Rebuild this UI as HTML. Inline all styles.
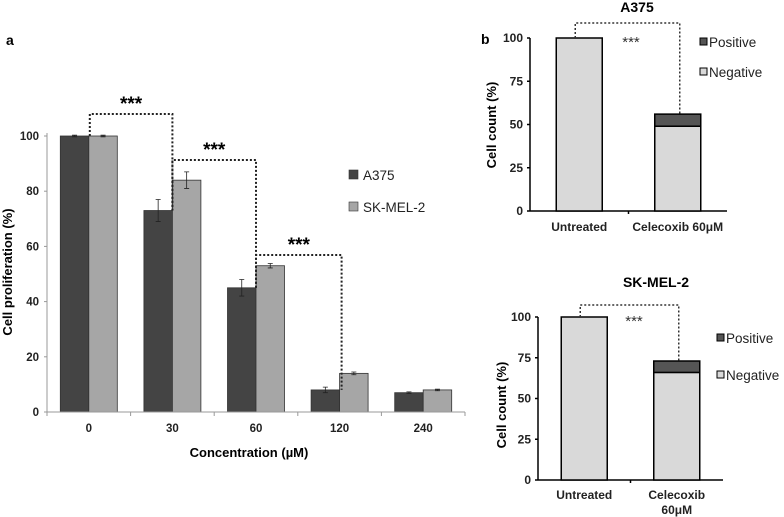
<!DOCTYPE html>
<html><head><meta charset="utf-8"><style>
html,body{margin:0;padding:0;background:#fff}
svg{display:block;font-family:"Liberation Sans",Arial,sans-serif}
</style></head><body>
<svg id="s" width="784" height="517" viewBox="0 0 784 517"></svg>
<script>
// Panel a data
const categoriesA = ["0","30","60","120","240"];
const a375Values = [100,73,45,8,7];
const a375Err = [0.3,4,3,1,0.3];
const skmelValues = [100,84,53,14,8];
const skmelErr = [0.3,3,0.8,0.5,0.3];
const yTicksA = [0,20,40,60,80,100];
// Panel b data
const categoriesB = ["Untreated","Celecoxib 60μM"];
const a375Negative = [100,49];
const a375Positive = [0,7];
const skNegative = [100,66];
const skPositive = [0,7];
const yTicksB = [0,25,50,75,100];

const NS="http://www.w3.org/2000/svg";
const svg=document.getElementById('s');
function el(tag,attrs,parent,text){const e=document.createElementNS(NS,tag);for(const k in attrs)e.setAttribute(k,attrs[k]);if(text!==undefined)e.textContent=text;(parent||svg).appendChild(e);return e;}

// ---------- Panel a ----------
const ga=el('g',{});


const ax0=47, ax1=465, ay0=412, ay100=136;
const yA=v=>ay0-(ay0-ay100)*v/100;
const cw=(ax1-ax0)/categoriesA.length;
const xA=i=>ax0+cw*(i+0.5);
const bw=28.5;
let t=el('text',{x:6,y:45,'font-size':14,'font-weight':'bold'},ga,'a');

yTicksA.forEach(v=>{
  const tx=el('text',{x:39,y:yA(v)+4,'font-size':11.5,'font-weight':'bold','text-anchor':'end',fill:'#222'},ga,v);
  
  el('line',{x1:44,x2:ax0,y1:yA(v),y2:yA(v),stroke:'#999'},ga);
});
categoriesA.forEach((c,i)=>{
  const x=xA(i);
  [[a375Values,a375Err,'#444',x-bw,'bar-a375-'+c],[skmelValues,skmelErr,'#a6a6a6',x,'bar-skmel2-'+c]].forEach(([vals,errs,col,bx,nm])=>{
    const r=el('rect',{x:bx,y:yA(vals[i]),width:bw,height:ay0-yA(vals[i]),fill:col,stroke:'#333','stroke-width':0.8},ga);
    
    const cx=bx+bw/2, t1=yA(vals[i]+errs[i]), t2=yA(vals[i]-errs[i]);
    el('path',{d:`M${cx},${t1}V${t2}M${cx-2.5},${t1}H${cx+2.5}M${cx-2.5},${t2}H${cx+2.5}`,stroke:'#222','stroke-width':0.8,fill:'none'},ga);
  });
  const lb=el('text',{x:x,y:432,'font-size':11.5,'font-weight':'bold','text-anchor':'middle',fill:'#222'},ga,c);
  
  el('line',{x1:ax0+cw*i,x2:ax0+cw*i,y1:ay0,y2:ay0+4,stroke:'#999'},ga);
});
el('line',{x1:ax1,x2:ax1,y1:ay0,y2:ay0+4,stroke:'#999'},ga);
el('line',{x1:ax0,x2:ax0,y1:ay100-3,y2:ay0,stroke:'#999'},ga);
el('line',{x1:ax0,x2:ax1,y1:ay0,y2:ay0,stroke:'#999'},ga);
// brackets
[[0,1,114,a375Values[1]],[1,2,160,a375Values[2]],[2,3,255,a375Values[3]]].forEach(([i,j,top,v],k)=>{
  const x1=xA(i)+(i===0?1:0), x2=xA(j)+(j===3?2:0);
  const st=i===0?yA(100):yA(a375Values[i]);
  const p=el('path',{d:`M${x1},${st}V${top}H${x2}V${yA(v)}`,stroke:'#222','stroke-width':2,'stroke-dasharray':'2,2',fill:'none'},ga);
  
  const s=el('text',{x:(x1+x2)/2,y:top-4,'font-size':19,'font-weight':'bold','text-anchor':'middle'},ga,'***');
  
});
// legend
[['A375','#444',175],['SK-MEL-2','#a6a6a6',207]].forEach(([n,c,y])=>{
  const r=el('rect',{x:349,y:y-5,width:9,height:9,fill:c,stroke:'#333','stroke-width':0.6},ga);
  
  const tx=el('text',{x:363,y:y+5,'font-size':13.5,fill:'#222'},ga,n);
  
});
t=el('text',{x:12,y:272,'font-size':13,'font-weight':'bold','text-anchor':'middle',transform:'rotate(-90 12 272)'},ga,'Cell proliferation (%)');

t=el('text',{x:249,y:457,'font-size':13,'font-weight':'bold','text-anchor':'middle'},ga,'Concentration (µM)');


// ---------- Panel b ----------
function panelB(cfg){
  const g=el('g',{});
  
  
  const {x0,x1,y0,y100}=cfg;
  const y=v=>y0-(y0-y100)*v/100;
  yTicksB.forEach(v=>{
    const tx=el('text',{x:x0-7,y:y(v)+4,'font-size':12,'font-weight':'bold','text-anchor':'end',fill:'#222'},g,v);
    
    el('line',{x1:x0-3,x2:x0,y1:y(v),y2:y(v),stroke:'#000','stroke-width':1.5},g);
  });
  el('line',{x1:x0,x2:x0,y1:y(100),y2:y0,stroke:'#000','stroke-width':1.5},g);
  el('line',{x1:x0,x2:x1,y1:y0,y2:y0,stroke:'#000','stroke-width':1.5},g);
  const cwb=(x1-x0)/2;
  el('line',{x1:x0+cwb,x2:x0+cwb,y1:y0,y2:y0+3,stroke:'#000','stroke-width':1.5},g);
  const bwb=46;
  categoriesB.forEach((c,i)=>{
    const cx=x0+cwb*(i+0.5);
    const n=cfg.neg[i],p=cfg.pos[i];
    const r=el('rect',{x:cx-bwb/2,y:y(n),width:bwb,height:y0-y(n),fill:'#d9d9d9',stroke:'#000','stroke-width':1.5},g);
    
    if(p>0){const r2=el('rect',{x:cx-bwb/2,y:y(n+p),width:bwb,height:y(n)-y(n+p),fill:'#555',stroke:'#000','stroke-width':1.5},g);
      }
    const lines=cfg.wrap&&i===1?['Celecoxib','60μM']:[c];
    lines.forEach((ln,k)=>{const tx=el('text',{x:cx,y:cfg.labelY+k*15,'font-size':12,'font-weight':'bold','text-anchor':'middle',fill:'#222'},g,ln);
      });
  });
  const bx1=x0+cwb*0.5-4, bx2=x0+cwb*1.5+2;
  const pb=el('path',{d:`M${bx1},${y(100)}V${cfg.top}H${bx2}V${y(cfg.neg[1]+cfg.pos[1])}`,stroke:'#333','stroke-width':1.5,'stroke-dasharray':'2,2',fill:'none'},g);
  
  t=el('text',{x:cfg.starX,y:y(100)+9,'font-size':15,'text-anchor':'middle',fill:'#333'},g,'***');
  
  t=el('text',{x:cfg.titleX,y:cfg.titleY,'font-size':14,'font-weight':'bold','text-anchor':'middle'},g,cfg.title);
  
  [['Positive','#555',cfg.legY1],['Negative','#d9d9d9',cfg.legY2]].forEach(([n,c,yy])=>{
    const r=el('rect',{x:cfg.legX,y:yy-4,width:7,height:7,fill:c,stroke:'#000','stroke-width':1},g);
    
    const tx=el('text',{x:cfg.legX+9,y:yy+5,'font-size':13.5,fill:'#222'},g,n);
    
  });
  t=el('text',{x:cfg.ytX,y:cfg.ytY,'font-size':13,'font-weight':'bold','text-anchor':'middle',transform:`rotate(-90 ${cfg.ytX} ${cfg.ytY})`},g,'Cell count (%)');
  
}
t=el('text',{x:481,y:44,'font-size':14,'font-weight':'bold'},svg,'b');

panelB({name:'panel-b-a375',x0:530,x1:727,y0:211,y100:38,neg:a375Negative,pos:a375Positive,labelY:231,top:23,
  starX:631,titleX:637,titleY:12,title:'A375',legX:700,legY1:42,legY2:72,ytX:496,ytY:125,wrap:false});
panelB({name:'panel-b-skmel2',x0:538,x1:723,y0:480,y100:317,neg:skNegative,pos:skPositive,labelY:499,top:305,
  starX:634,titleX:656,titleY:287,title:'SK-MEL-2',legX:717,legY1:338,legY2:375,ytX:506,ytY:405,wrap:true});
</script>
</body></html>
